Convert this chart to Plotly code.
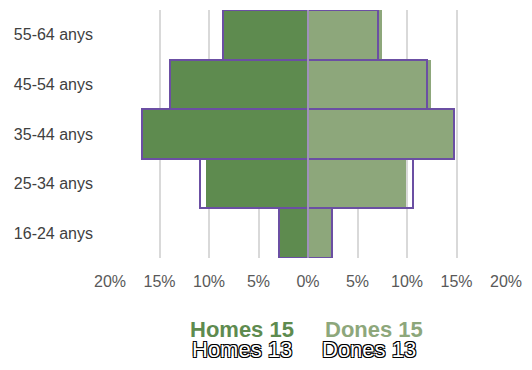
import plotly.graph_objects as go

# Age groups, bottom to top
groups = ["16-24 anys", "25-34 anys", "35-44 anys", "45-54 anys", "55-64 anys"]

# Share of population (%) by sex and year
homes_15 = [2.9, 10.3, 16.8, 13.8, 8.6]
dones_15 = [2.4, 9.9, 14.6, 12.4, 7.5]
homes_13 = [2.9, 10.9, 16.8, 13.9, 8.6]
dones_13 = [2.4, 10.6, 14.7, 12.0, 7.1]

tick_vals = [-20, -15, -10, -5, 0, 5, 10, 15, 20]
tick_text = ["20%", "15%", "10%", "5%", "0%", "5%", "10%", "15%", "20%"]

DARK = "#5e8b4f"
LIGHT = "#8da77b"
OUTLINE = "#6b4fa3"

fig = go.Figure()

fig.add_trace(go.Bar(y=groups, x=[-v for v in homes_15], orientation="h",
                     name="Homes 15", marker=dict(color=DARK, line=dict(width=0))))
fig.add_trace(go.Bar(y=groups, x=dones_15, orientation="h",
                     name="Dones 15", marker=dict(color=LIGHT, line=dict(width=0))))
fig.add_trace(go.Bar(y=groups, x=[-v for v in homes_13], orientation="h",
                     name="Homes 13",
                     marker=dict(color="rgba(0,0,0,0)", line=dict(color=OUTLINE, width=2))))
fig.add_trace(go.Bar(y=groups, x=dones_13, orientation="h",
                     name="Dones 13",
                     marker=dict(color="rgba(0,0,0,0)", line=dict(color=OUTLINE, width=2))))

# centre divider drawn over the bars
fig.add_shape(type="line", xref="x", yref="paper", x0=0, x1=0, y0=0, y1=1,
              line=dict(color="#d4d4d4", width=1), layer="above")

outline_shadow = "1px 1px 0 #000, -1px -1px 0 #000, 1px -1px 0 #000, -1px 1px 0 #000"
legend_items = [
    ("Homes 15", -6.67, -0.29, dict(color=DARK, weight="bold", shadow="none")),
    ("Dones 15", 6.7, -0.29, dict(color=LIGHT, weight="bold", shadow="none")),
    ("Homes 13", -6.67, -0.367, dict(color="#ffffff", weight="normal", shadow=outline_shadow)),
    ("Dones 13", 6.2, -0.367, dict(color="#ffffff", weight="normal", shadow=outline_shadow)),
]
for text, x, y, style in legend_items:
    fig.add_annotation(text=text, x=x, y=y, xref="x", yref="paper",
                       xanchor="center", yanchor="middle", showarrow=False,
                       font=dict(family="Liberation Sans, Arial, sans-serif", size=22, **style))

fig.update_layout(
    width=532, height=370,
    margin=dict(l=110, r=24, t=10, b=112),
    barmode="overlay", bargap=0,
    showlegend=False,
    plot_bgcolor="white", paper_bgcolor="white",
    font=dict(family="Liberation Sans, Arial, sans-serif", size=16, color="#595959"),
)
fig.update_xaxes(range=[-20, 20], tickvals=tick_vals, ticktext=tick_text,
                 showgrid=True, gridcolor="#d9d9d9", gridwidth=1.5,
                 zeroline=False, showline=False, ticks="",
                 ticklabelstandoff=12, fixedrange=True)
fig.update_yaxes(showgrid=False, zeroline=False, showline=False, ticks="",
                 ticklabelstandoff=16, tickfont=dict(color="#404040"),
                 fixedrange=True)

fig.write_html("out.html")
